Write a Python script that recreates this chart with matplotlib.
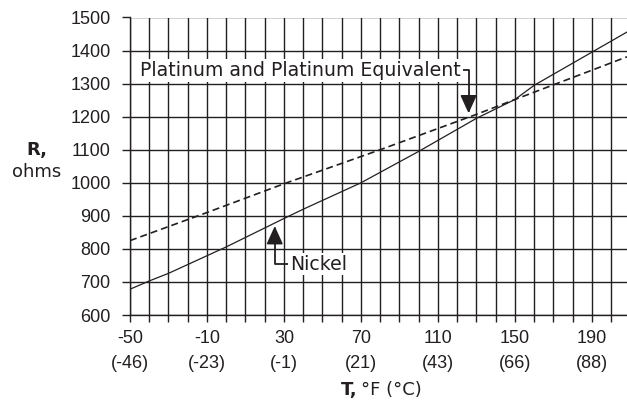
import matplotlib
matplotlib.use('Agg')
import matplotlib.pyplot as plt
import numpy as np

plt.rcParams['font.family'] = ['Liberation Sans', 'DejaVu Sans']

# 温度 (°F) 与电阻 (ohms)
nickel_t = [-50, -40, -30, 0, 30, 40, 70, 100, 130, 150, 160, 208.2]
nickel_r = [678, 703, 726, 806, 892, 920, 1000, 1095, 1195, 1252, 1295, 1456]
plat_t = [-50, -10, 30, 80, 130, 150, 208.2]
plat_r = [825, 910, 997, 1100, 1207, 1252, 1381]

xticks = [-50, -10, 30, 70, 110, 150, 190]
xlabels = ['-50\n(-46)', '-10\n(-23)', '30\n(-1)', '70\n(21)', '110\n(43)', '150\n(66)', '190\n(88)']
yticks = list(range(600, 1501, 100))

ink = '#231f20'
txt_font = ['DejaVu Sans']
fig = plt.figure(figsize=(6.27, 4.07), dpi=100)
ax = fig.add_axes([130 / 627, 92 / 407, 497 / 627, 297.5 / 407])

ax.set_xlim(-50, 208.2)
ax.set_ylim(600, 1500)

# 网格：每10°F一条竖线，每100欧一条横线
ax.set_xticks(np.arange(-50, 201, 10), minor=True)
ax.set_xticks(xticks)
ax.set_xticklabels(xlabels)
ax.set_yticks(yticks)
ax.grid(True, which='both', axis='x', color=ink, lw=1.0)
ax.grid(True, which='major', axis='y', color=ink, lw=1.0)
ax.set_axisbelow(True)
ax.tick_params(axis='x', which='both', length=5, width=1.0, color=ink,
               labelsize=13, pad=6, labelcolor=ink)
ax.tick_params(axis='y', length=6, width=1.0, color=ink, labelsize=13,
               pad=8, labelcolor=ink)
for t in ax.get_xticklabels():
    t.set_linespacing(1.6)
for s in ['top', 'right']:
    ax.spines[s].set_visible(False)
for s in ['left', 'bottom']:
    ax.spines[s].set_color(ink)
    ax.spines[s].set_linewidth(1.0)

ax.plot(nickel_t, nickel_r, color=ink, lw=0.9, zorder=3)
ax.plot(plat_t, plat_r, color=ink, lw=1.2, dashes=(4.2, 2.4), zorder=3)

# 标注
arrow = dict(arrowstyle='-|>,head_length=0.55,head_width=0.25',
             connectionstyle='angle,angleA=0,angleB=90,rad=0',
             color=ink, lw=1.3, mutation_scale=20, shrinkA=0, shrinkB=0)
ax.annotate('Platinum and Platinum Equivalent', xy=(125.9, 1210), xytext=(122, 1340),
            ha='right', va='center', fontsize=13.6, color=ink, family=txt_font,
            bbox=dict(boxstyle='square,pad=0.1', fc='white', ec='none'),
            arrowprops=arrow, zorder=4)
ax.annotate('Nickel', xy=(25.2, 869), xytext=(33.1, 754),
            ha='left', va='center', fontsize=13.6, color=ink, family=txt_font,
            bbox=dict(boxstyle='square,pad=0.1', fc='white', ec='none'),
            arrowprops=arrow, zorder=4)

# 轴标题
fig.text(37 / 627, 1 - 150 / 407, 'R,', ha='center', va='center', fontsize=13,
         fontweight='bold', color=ink, family=txt_font)
fig.text(37 / 627, 1 - 172 / 407, 'ohms', ha='center', va='center', fontsize=13,
         color=ink, family=txt_font)
fig.text(341 / 627, 1 - 390 / 407, 'T,', ha='left', va='center', fontsize=13,
         fontweight='bold', color=ink, family=txt_font)
fig.text(361 / 627, 1 - 390 / 407, '°F (°C)', ha='left', va='center', fontsize=13,
         color=ink, family=txt_font)

plt.savefig('out.png', dpi=100)
